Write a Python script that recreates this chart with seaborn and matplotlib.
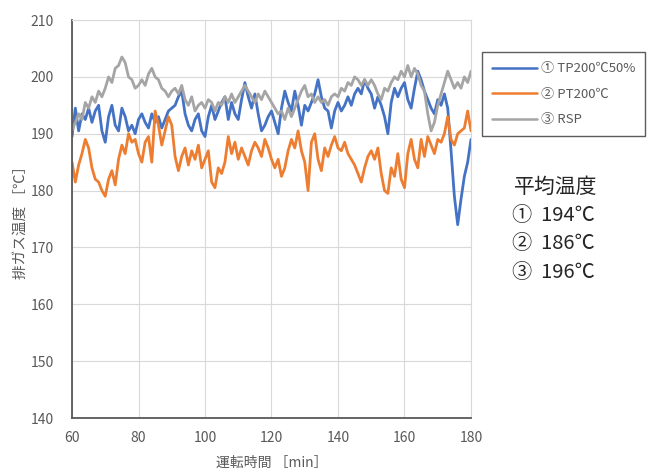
import numpy as np
import pandas as pd
import matplotlib
matplotlib.use("Agg")
import matplotlib.pyplot as plt
import seaborn as sns

# ---- data ----
time_min = list(range(60, 181))

tp200_50 = [
    189.5, 194.5, 190.5, 193.5, 192.5, 194.5, 192, 194, 195, 190.5, 188.5, 193, 195, 191.5, 190.5, 194.5,
    193, 190.5, 191.5, 190, 192.5, 193.5, 192, 191, 193.5, 192, 193, 191, 192.5, 194, 194.5,
    195, 196.5, 197.5, 193.5, 191.5, 190.5, 192.5, 193.5, 190.5, 189.5, 193, 195, 192.5, 194, 195.5,
    196.5, 192.5, 195.5, 193.5, 192.5, 196, 199, 196.5, 194.5, 197, 193.5, 190.5, 191.5, 193, 194,
    192, 190, 194.5, 197.5, 195.5, 194, 197.5, 195, 191.5, 195, 194, 195.5, 197, 199.5, 196.5,
    194.5, 194, 191, 194, 195.5, 194, 195, 196.5, 195, 197, 198, 197, 199.5, 198, 197,
    194.5, 196.5, 195, 193, 190, 195.5, 198, 196.5, 198, 199, 196, 194.5, 198, 201, 199.5,
    197.5, 196, 194.5, 193.5, 196, 195, 197, 194.5, 187, 179, 174, 178.5, 182.5, 185, 189,
]
pt200 = [
    185, 181.5, 184.5, 186.5, 189, 187.5, 184, 182, 181.5, 180, 179, 182, 183.5, 181, 185.5, 188,
    186.5, 190, 188.5, 189, 186.5, 185, 188.5, 189.5, 185, 194, 191.5, 188, 190.5, 193, 191.5,
    186, 183.5, 186, 187.5, 184.5, 187, 185.5, 188, 184, 185.5, 187, 181.5, 180.5, 184, 183,
    185, 189.5, 186.5, 188.5, 185.5, 187.5, 186, 184.5, 187, 188.5, 187.5, 186, 189, 187.5, 185.5,
    184, 185.5, 182.5, 184, 187, 189, 187.5, 190.5, 187, 185, 180, 188.5, 190, 185.5, 183.5,
    187.5, 186, 188, 189.5, 187.5, 187, 188.5, 186.5, 185.5, 184.5, 183, 181.5, 184, 186, 187,
    185.5, 187.5, 183, 180, 179.5, 184, 182.5, 186.5, 182, 180.5, 186.5, 189, 185.5, 184, 189,
    186, 189.5, 188, 186.5, 189, 188.5, 190, 193, 189, 188, 190, 190.5, 191, 194, 190.5,
]
rsp = [
    190.5, 192, 193.5, 192.5, 195.5, 194.5, 196.5, 195.5, 197.5, 196.5, 198, 200, 199, 201.5, 202, 203.5,
    202.5, 200, 199.5, 198, 198.5, 199.5, 198.5, 200.5, 201.5, 200, 199.5, 198, 197.5, 196.5, 197.5,
    198, 197, 198.5, 196, 195, 196.5, 194, 195, 195.5, 194.5, 196, 195.5, 194, 195.5, 195,
    196.5, 195.5, 197, 195.5, 196.5, 197.5, 198.5, 197.5, 196.5, 195.5, 197, 196, 197.5, 196.5, 195.5,
    194.5, 193.5, 194, 192.5, 194.5, 193, 194.5, 196, 197.5, 198.5, 196.5, 197, 195.5, 196.5, 195.5,
    196, 195, 196.5, 197, 196.5, 198, 197.5, 199, 198.5, 200, 199.5, 198.5, 199.5, 198.5, 199.5,
    198.5, 197, 196, 198, 197.5, 199, 200, 199.5, 201, 200, 202, 200, 201.5, 200.5, 198.5,
    197.5, 193.5, 190.5, 192, 195, 197, 199, 201, 199.5, 198, 199, 198, 200, 199, 201,
]

series_names = ["① TP200℃50%", "② PT200℃", "③ RSP"]
series_colors = ["#4472C4", "#ED7D31", "#A5A5A5"]
avg_title = "平均温度"
avg_labels = ["①  194℃", "②  186℃", "③  196℃"]
x_ticks = [60, 80, 100, 120, 140, 160, 180]
y_ticks = [140, 150, 160, 170, 180, 190, 200, 210]
x_label = "運転時間 ［min］"
y_label = "排ガス温度 ［℃］"

df = pd.DataFrame({
    "time": time_min * 3,
    "temp": tp200_50 + pt200 + rsp,
    "series": [series_names[0]] * len(time_min) + [series_names[1]] * len(time_min)
              + [series_names[2]] * len(time_min),
})

# ---- styling ----
sns.set_theme(style="whitegrid")
plt.rcParams["font.family"] = ["Noto Sans CJK JP", "DejaVu Sans"]

fig = plt.figure(figsize=(6.51, 4.71), dpi=100)
ax = fig.add_axes([0.1106, 0.1125, 0.6129, 0.8450])

sns.lineplot(data=df, x="time", y="temp", hue="series", hue_order=series_names,
             palette=series_colors, linewidth=2.0, ax=ax, legend=False)

ax.set_xlim(60, 180)
ax.set_ylim(140, 210)
ax.set_xticks(x_ticks)
ax.set_yticks(y_ticks)
ax.tick_params(axis="both", labelsize=10, colors="#595959", length=0)
ax.tick_params(axis="y", pad=13)
ax.tick_params(axis="x", pad=9)
ax.grid(True, color="#D9D9D9", linewidth=0.8)
for side in ["top", "right"]:
    ax.spines[side].set_color("#D9D9D9")
    ax.spines[side].set_linewidth(0.8)
for side in ["left", "bottom"]:
    ax.spines[side].set_color("#595959")
    ax.spines[side].set_linewidth(1.3)

ax.set_xlabel(x_label, fontsize=10, color="#595959", labelpad=8)
ax.set_ylabel(y_label, fontsize=10.5, color="#595959", labelpad=2)

handles = [plt.Line2D([], [], color=c, linewidth=1.8) for c in series_colors]
leg = fig.legend(handles, series_names, loc="upper left",
                 bbox_to_anchor=(0.741, 0.889), frameon=True, fancybox=False,
                 fontsize=9.5, handlelength=3.4, handletextpad=0.3,
                 labelspacing=0.95, borderpad=0.75, borderaxespad=0,
                 labelcolor="#595959")
leg.get_frame().set_edgecolor("#333333")
leg.get_frame().set_linewidth(1.0)

fig.text(0.789, 0.604, avg_title, fontsize=15, color="#262626", va="center")
for i, lab in enumerate(avg_labels):
    fig.text(0.787, 0.543 - i * 0.061, lab, fontsize=14.5, color="#262626", va="center")

fig.savefig("out.png", dpi=100)
